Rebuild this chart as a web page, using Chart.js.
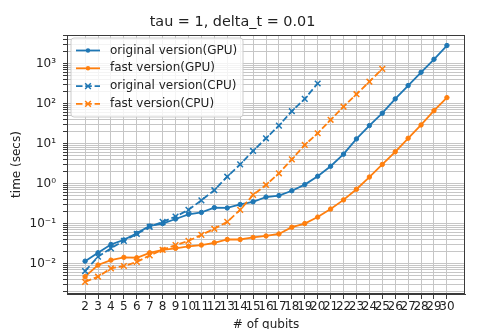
<!DOCTYPE html>
<html><head><meta charset="utf-8">
<script src="https://cdn.jsdelivr.net/npm/chart.js@4.4.1/dist/chart.umd.min.js"></script>
<style>html,body{margin:0;padding:0;overflow:hidden;background:#fff}#wrap{width:478px;height:336px;position:relative}</style>
</head><body><div id="wrap"><canvas id="c" width="478" height="336"></canvas></div>
<script>
const qubits = [2,3,4,5,6,7,8,9,10,11,12,13,14,15,16,17,18,19,20,21,22,23,24,25,26,27,28,29,30];
const origGPU = [0.0115,0.0186,0.030,0.039,0.057,0.087,0.10,0.13,0.17,0.19,0.25,0.245,0.30,0.35,0.46,0.50,0.66,0.94,1.52,2.7,5.4,13,28,57,130,280,600,1270,2800];
const fastGPU = [0.0047,0.0092,0.0122,0.0143,0.014,0.0186,0.022,0.024,0.027,0.029,0.033,0.040,0.040,0.045,0.049,0.055,0.081,0.10,0.145,0.23,0.39,0.72,1.45,3.0,6.2,13.5,29,66,140];
const origCPU = [0.0065,0.0148,0.024,0.037,0.055,0.083,0.11,0.15,0.22,0.38,0.68,1.48,3.0,6.5,13.5,28,64,130,315];
const fastCPU = [0.0035,0.0047,0.0076,0.0087,0.011,0.016,0.022,0.029,0.037,0.052,0.074,0.11,0.22,0.52,0.92,1.8,4.0,9.2,18,39,83,170,350,730];
const seriesLabels = ['original version(GPU)','fast version(GPU)','original version(CPU)','fast version(CPU)'];
const yDecades = [-2,-1,0,1,2,3];
const yTickLabels = ['10\u207B\u00B2','10\u207B\u00B9','10\u2070','10\u00B9','10\u00B2','10\u00B3'];
const titleText = 'tau = 1, delta_t = 0.01';
const xTitle = '# of qubits';
const yTitle = 'time (secs)';

const BLUE = '#1f77b4', ORANGE = '#ff7f0e';
const FONT = 'DejaVu Sans';
const pts = arr => arr.map((v,i)=>({x: qubits[i], y: v}));

function mkDs(label, arr, color, dashed, order){
  return {
    label, data: pts(arr), borderColor: color, backgroundColor: color,
    borderWidth: 1.8, borderDash: dashed ? [6.5,2.8] : [],
    pointStyle: dashed ? 'crossRot' : 'circle',
    pointRadius: dashed ? 4 : 2.2, pointBorderWidth: dashed ? 1.5 : 1,
    pointBackgroundColor: color, pointBorderColor: color,
    tension: 0, fill: false, order
  };
}

const framePlugin = {
  id: 'frame',
  afterDatasetsDraw(chart){
    const {ctx, chartArea: a} = chart;
    ctx.save();
    ctx.strokeStyle = '#3a3a3a'; ctx.lineWidth = 1;
    ctx.strokeRect(a.left+0.5, a.top+0.5, a.right-a.left-1, a.bottom-a.top-1);
    ctx.restore();
  }
};

const legendPlugin = {
  id: 'mplLegend',
  afterDraw(chart){
    const {ctx, chartArea: a} = chart;
    const x0 = a.left + 4, y0 = a.top + 3, w = 172, h = 79;
    ctx.save();
    ctx.beginPath();
    const r = 3;
    ctx.moveTo(x0+r, y0); ctx.lineTo(x0+w-r, y0); ctx.quadraticCurveTo(x0+w, y0, x0+w, y0+r);
    ctx.lineTo(x0+w, y0+h-r); ctx.quadraticCurveTo(x0+w, y0+h, x0+w-r, y0+h);
    ctx.lineTo(x0+r, y0+h); ctx.quadraticCurveTo(x0, y0+h, x0, y0+h-r);
    ctx.lineTo(x0, y0+r); ctx.quadraticCurveTo(x0, y0, x0+r, y0);
    ctx.closePath();
    ctx.fillStyle = 'rgba(255,255,255,0.8)'; ctx.fill();
    ctx.strokeStyle = '#cccccc'; ctx.lineWidth = 1; ctx.stroke();
    chart.data.datasets.forEach((ds, i) => {
      const cy = y0 + 12.5 + i*17.8;
      const lx0 = x0 + 5, lx1 = x0 + 29, mx = (lx0+lx1)/2;
      ctx.strokeStyle = ds.borderColor; ctx.lineWidth = ds.borderWidth;
      ctx.setLineDash(ds.borderDash);
      ctx.beginPath(); ctx.moveTo(lx0, cy); ctx.lineTo(lx1, cy); ctx.stroke();
      ctx.setLineDash([]);
      if (ds.pointStyle === 'circle') {
        ctx.fillStyle = ds.borderColor; ctx.beginPath(); ctx.arc(mx, cy, 2.2, 0, Math.PI*2); ctx.fill();
      } else {
        const d = 4*Math.SQRT1_2;
        ctx.lineWidth = 1.5; ctx.beginPath();
        ctx.moveTo(mx-d, cy-d); ctx.lineTo(mx+d, cy+d);
        ctx.moveTo(mx+d, cy-d); ctx.lineTo(mx-d, cy+d); ctx.stroke();
      }
      ctx.fillStyle = '#222'; ctx.font = '12px "' + FONT + '"';
      ctx.textBaseline = 'middle'; ctx.textAlign = 'left';
      ctx.fillText(ds.label, x0 + 39, cy);
    });
    ctx.restore();
  }
};

new Chart(document.getElementById('c'), {
  type: 'line',
  data: {
    datasets: [
      mkDs(seriesLabels[0], origGPU, BLUE, false, 4),
      mkDs(seriesLabels[1], fastGPU, ORANGE, false, 3),
      mkDs(seriesLabels[2], origCPU, BLUE, true, 2),
      mkDs(seriesLabels[3], fastCPU, ORANGE, true, 1)
    ]
  },
  options: {
    responsive: false, animation: false, devicePixelRatio: 1,
    layout: {padding: {left: 0, right: 13, top: 0, bottom: 0}},
    plugins: {
      legend: {display: false}, tooltip: {enabled: false},
      title: {display: true, text: titleText, color: '#222',
        font: {family: FONT, size: 14.4, weight: 'normal'}, padding: {top: 14, bottom: 3.72}}
    },
    scales: {
      x: {
        type: 'linear', min: 0.6, max: 31.4,
        afterBuildTicks: s => { s.ticks = qubits.map(v => ({value: v})); },
        afterFit: s => { s.height = 336 - 294; },
        ticks: {autoSkip: false, maxRotation: 0, minRotation: 0, padding: 1, color: '#222',
          font: {family: FONT, size: 12}, callback: v => String(v)},
        grid: {color: '#c6c6c6', lineWidth: 1, drawTicks: true, tickLength: 5, tickColor: '#3a3a3a'},
        border: {display: true, color: '#3a3a3a', width: 1},
        title: {display: true, text: xTitle, color: '#222', font: {family: FONT, size: 12}, padding: {top: 0, bottom: 4}}
      },
      y: {
        type: 'logarithmic', min: Math.pow(10,-2.76), max: Math.pow(10,3.71),
        afterBuildTicks: s => {
          const t = [];
          for (let e = -3; e <= 3; e++) for (let m = 1; m <= 9; m++) {
            const v = m * Math.pow(10, e);
            if (v >= s.min && v <= s.max) t.push({value: v, major: m === 1});
          }
          s.ticks = t;
        },
        afterFit: s => { s.width = 67; },
        ticks: {autoSkip: false, padding: 7, color: '#222', font: {family: FONT, size: 12},
          callback: v => {
            const e = Math.log10(v), r = Math.round(e);
            if (Math.abs(e - r) < 1e-6) { const k = yDecades.indexOf(r); return k >= 0 ? yTickLabels[k] : ''; }
            return '';
          }},
        grid: {color: '#c6c6c6', lineWidth: 1, drawTicks: true, tickLength: 4, tickColor: '#3a3a3a'},
        border: {display: true, color: '#3a3a3a', width: 1},
        title: {display: true, text: yTitle, color: '#222', font: {family: FONT, size: 12}, padding: {top: 10, bottom: 0}}
      }
    }
  },
  plugins: [framePlugin, legendPlugin]
});
</script></body></html>
